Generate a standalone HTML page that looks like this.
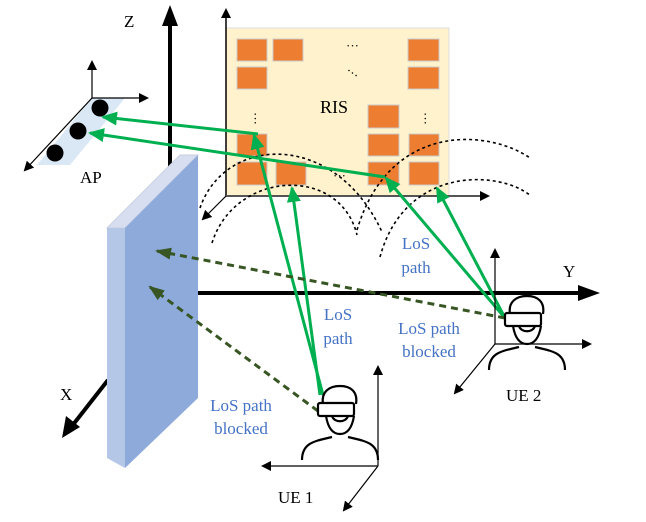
<!DOCTYPE html>
<html><head><style>body{margin:0;background:#fff}svg{display:block}</style></head><body>
<svg width="646" height="522" viewBox="0 0 646 522" xmlns="http://www.w3.org/2000/svg" font-family="Liberation Serif, serif">
<defs>
<marker id="ab" markerWidth="10" markerHeight="10" refX="8" refY="5" orient="auto" markerUnits="userSpaceOnUse"><path d="M0,0 L10,5 L0,10 Z" fill="#000"/></marker>
<marker id="ag" markerWidth="16" markerHeight="14" refX="14" refY="7" orient="auto" markerUnits="userSpaceOnUse"><path d="M0,0 L16,7 L0,14 Z" fill="#00b050"/></marker>
<marker id="ad" markerWidth="16" markerHeight="12" refX="14" refY="6" orient="auto" markerUnits="userSpaceOnUse"><path d="M0,0 L16,6 L0,12 Z" fill="#375623"/></marker>
<g id="person" fill="none" stroke="#000" stroke-width="2.2">
<path d="M323,404 C321,392 329,386 340,386 C351,386 358,392 356,404"/>
<path d="M326,416 C328,428 333,434 340,434 C347,434 352,428 354,416"/>
<path d="M302,460 C302,442 316,441 332,437 M348,437 C364,441 378,442 378,460"/>
<rect x="318" y="403" width="36" height="13" rx="2" fill="#fff"/>
<path d="M332,416 C334,423 346,423 348,416"/>
</g>
</defs>
<!-- main Z axis -->
<line x1="170" y1="170" x2="170" y2="20" stroke="#000" stroke-width="4"/>
<polygon points="170,5 162,26 178,26" fill="#000"/>
<!-- RIS -->
<rect x="226" y="28" width="223" height="168" fill="#fff2cc" stroke="#ddd" stroke-width="1"/>
<g fill="#ed7d31" stroke="#c9c9c9" stroke-width="1">
<rect x="237" y="39" width="30" height="22"/><rect x="273" y="39" width="30" height="22"/><rect x="408" y="39" width="31" height="22"/>
<rect x="237" y="67" width="30" height="22"/><rect x="408" y="67" width="31" height="22"/>
<rect x="368" y="105" width="31" height="23"/>
<rect x="237" y="134" width="30" height="22"/><rect x="368" y="134" width="31" height="22"/><rect x="409" y="134" width="30" height="22"/>
<rect x="237" y="162" width="30" height="23"/><rect x="276" y="162" width="30" height="23"/><rect x="368" y="162" width="31" height="23"/><rect x="409" y="162" width="30" height="23"/>
</g>
<g font-size="13" fill="#000"><text x="346" y="50">···</text><text x="254" y="115" transform="rotate(90 254 112)">···</text><text x="424" y="115" transform="rotate(90 424 112)">···</text><text x="333" y="180">···</text><text x="345" y="76" transform="rotate(35 350 74)">···</text></g>
<text x="320" y="113" font-size="18">RIS</text>
<line x1="226" y1="196" x2="226" y2="10" stroke="#000" stroke-width="1.5" marker-end="url(#ab)"/>
<line x1="226" y1="196" x2="488" y2="196" stroke="#555" stroke-width="2" marker-end="url(#ab)"/>
<line x1="226" y1="196" x2="203" y2="219" stroke="#000" stroke-width="1.2" marker-end="url(#ab)"/>
<!-- dotted arcs -->
<g fill="none" stroke="#000" stroke-width="1.6" stroke-dasharray="3,3">
<path d="M200,208 C225,135 335,130 382,232"/>
<path d="M212,243 C235,170 340,165 357,235"/>
<path d="M357,230 C390,120 490,130 530,158"/>
<path d="M380,257 C405,165 500,170 531,196"/>
</g>
<!-- AP -->
<polygon points="92,98 125,98 70,165 37,165" fill="#dae8f5"/>
<line x1="92" y1="98" x2="92" y2="62" stroke="#000" stroke-width="1.2" marker-end="url(#ab)"/>
<line x1="92" y1="98" x2="147" y2="98" stroke="#000" stroke-width="1.2" marker-end="url(#ab)"/>
<line x1="92" y1="98" x2="25" y2="170" stroke="#000" stroke-width="1.2" marker-end="url(#ab)"/>
<circle cx="100" cy="108" r="8.5"/><circle cx="78" cy="131" r="8.5"/><circle cx="55" cy="153" r="8.5"/>
<text x="80" y="183" font-size="17">AP</text>
<text x="124" y="27" font-size="17">Z</text>
<!-- Y axis -->
<line x1="198" y1="293" x2="582" y2="293" stroke="#000" stroke-width="4"/>
<polygon points="600,293 578,285 578,301" fill="#000"/>
<text x="563" y="277" font-size="17">Y</text>
<!-- X axis -->
<line x1="108" y1="380" x2="72" y2="426" stroke="#000" stroke-width="4"/>
<polygon points="62,438 66,416 80,427" fill="#000"/>
<text x="60" y="400" font-size="17">X</text>
<!-- wall -->
<polygon points="107,228 180,155 198,155 125,228" fill="#d6def0" stroke="#c8cfe0" stroke-width="1"/>
<polygon points="107,228 125,228 125,468 107,458" fill="#b4c7e7"/>
<polygon points="125,228 198,155 198,398 125,468" fill="#8eaadb"/>
<!-- green paths -->
<g stroke="#00b050" stroke-width="3" fill="none">
<line x1="258" y1="134" x2="103" y2="117" marker-end="url(#ag)"/>
<line x1="385" y1="177" x2="90" y2="133" marker-end="url(#ag)"/>
<line x1="323" y1="395" x2="254" y2="135" marker-end="url(#ag)"/>
<line x1="320" y1="395" x2="292" y2="188" marker-end="url(#ag)"/>
<line x1="505" y1="318" x2="386" y2="178" marker-end="url(#ag)"/>
<line x1="505" y1="318" x2="437" y2="188" marker-end="url(#ag)"/>
</g>
<g stroke="#375623" stroke-width="3" stroke-dasharray="7,5" fill="none">
<line x1="318" y1="411" x2="150" y2="287" marker-end="url(#ad)"/>
<line x1="505" y1="318" x2="157" y2="251" marker-end="url(#ad)"/>
</g>
<!-- UE axes -->
<g stroke="#000" stroke-width="1.2">
<line x1="378" y1="466" x2="378" y2="367" marker-end="url(#ab)"/>
<line x1="378" y1="466" x2="263" y2="466" marker-end="url(#ab)"/>
<line x1="378" y1="466" x2="344" y2="510" marker-end="url(#ab)"/>
<line x1="495" y1="344" x2="495" y2="250" marker-end="url(#ab)"/>
<line x1="495" y1="344" x2="590" y2="344" marker-end="url(#ab)"/>
<line x1="495" y1="344" x2="455" y2="393" marker-end="url(#ab)"/>
</g>
<use href="#person"/>
<use href="#person" transform="translate(187,-90)"/>
<g fill="#4472c4" font-size="17" text-anchor="middle">
<text x="416" y="249">LoS</text><text x="416" y="273">path</text>
<text x="338" y="320">LoS</text><text x="338" y="344">path</text>
<text x="429" y="334">LoS path</text><text x="429" y="357">blocked</text>
<text x="241" y="411">LoS path</text><text x="241" y="434">blocked</text>
</g>
<g font-size="17" fill="#000">
<text x="278" y="503">UE 1</text><text x="506" y="401">UE 2</text>
</g>
</svg>
</body></html>
